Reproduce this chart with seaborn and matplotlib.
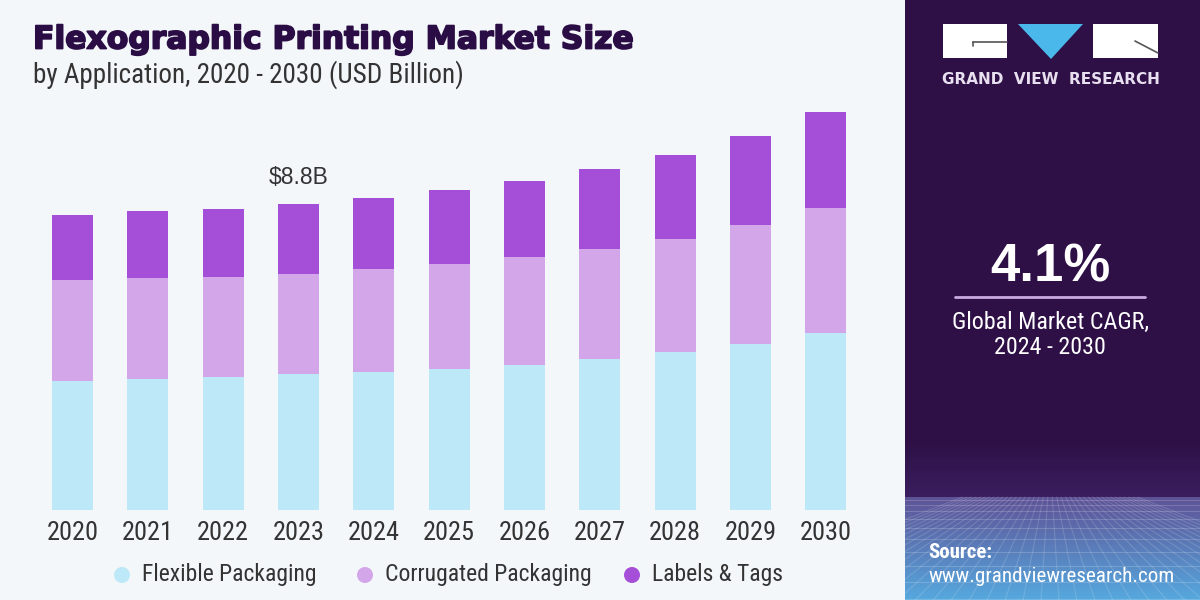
import numpy as np
import pandas as pd
import matplotlib
matplotlib.use("Agg")
import matplotlib.pyplot as plt
from matplotlib import font_manager as fm
from matplotlib.font_manager import FontProperties
from matplotlib.patches import Rectangle, Polygon, Ellipse
import matplotlib.patheffects as pe
import seaborn as sns

# ---------------- data ----------------
years = ["2020", "2021", "2022", "2023", "2024", "2025", "2026", "2027", "2028", "2029", "2030"]
flexible_packaging = [3.71, 3.77, 3.82, 3.90, 3.98, 4.06, 4.18, 4.33, 4.53, 4.77, 5.08]
corrugated_packaging = [2.90, 2.89, 2.88, 2.90, 2.95, 3.02, 3.10, 3.17, 3.27, 3.42, 3.62]
labels_tags = [1.87, 1.93, 1.96, 1.99, 2.05, 2.13, 2.19, 2.30, 2.41, 2.56, 2.75]
series_names = ["Flexible Packaging", "Corrugated Packaging", "Labels & Tags"]
colors = ["#BDE8F8", "#D3A6EA", "#A54ED7"]
highlight_year = "2023"
highlight_label = "$8.8B"
cagr_text = "4.1%"

# ---------------- fonts ----------------
sns.set_theme(style="white")
names = {f.name for f in fm.fontManager.ttflist}
SANS = "Liberation Sans" if "Liberation Sans" in names else "DejaVu Sans"
plt.rcParams["font.family"] = [SANS, "DejaVu Sans"]


def find_condensed(bold=False):
    prefs = ["Liberation Sans Narrow", "Roboto Condensed", "Open Sans Condensed",
             "Noto Sans Condensed", "DejaVu Sans Condensed", "DejaVu Sans"]
    best = None
    best_score = None
    for f in fm.fontManager.ttflist:
        nm = f.name
        fname_l = f.fname.lower()
        is_cond = ("narrow" in nm.lower() or "condensed" in nm.lower()
                   or f.stretch in ("condensed", "semi-condensed")
                   or "condensed" in fname_l or "narrow" in fname_l)
        if not is_cond or f.style != "normal":
            continue
        if "extracondensed" in fname_l.replace("-", "").replace("_", ""):
            continue
        w = f.weight if isinstance(f.weight, int) else (700 if "bold" in str(f.weight) else 400)
        target = 700 if bold else 400
        rank = next((i for i, p in enumerate(prefs) if nm.startswith(p)), len(prefs))
        score = (rank, abs(w - target))
        if best_score is None or score < best_score:
            best_score = score
            best = f.fname
    return best


cond_path = find_condensed(False)
cond_bold_path = find_condensed(True)


def cprop(size, bold=False):
    p = cond_bold_path if bold else cond_path
    if p:
        return FontProperties(fname=p, size=size)
    return FontProperties(family="DejaVu Sans", stretch="condensed", size=size,
                          weight="bold" if bold else "normal")


BG = "#F3F7FA"
TITLE_C = "#2B0D45"
TXT = "#333333"

fig = plt.figure(figsize=(12, 6), dpi=100, facecolor=BG)

# ---------------- bar chart ----------------
W, H = 1200.0, 600.0
px_per_unit = 34.77
ymax = 12.0
base_y = 510.0
ax_left = 34.9
ax_right = 863.5
ax = fig.add_axes([ax_left / W, (H - base_y) / H, (ax_right - ax_left) / W,
                   ymax * px_per_unit / H])
ax.set_facecolor(BG)

df = pd.DataFrame({"year": years,
                   "flex": flexible_packaging,
                   "corr": corrugated_packaging,
                   "lab": labels_tags})
df["c1"] = df["flex"]
df["c2"] = df["flex"] + df["corr"]
df["c3"] = df["c2"] + df["lab"]

for col, c in [("c3", colors[2]), ("c2", colors[1]), ("c1", colors[0])]:
    sns.barplot(data=df, x="year", y=col, color=c, width=0.545, ax=ax,
                saturation=1, edgecolor="none", linewidth=0)

ax.set_xlim(-0.5, len(years) - 0.5)
ax.set_ylim(0, ymax)
ax.set_xlabel("")
ax.set_ylabel("")
ax.set_yticks([])
for s in ax.spines.values():
    s.set_visible(False)
ax.tick_params(axis="x", length=0, pad=8)
for t in ax.get_xticklabels():
    t.set_fontproperties(cprop(19))
    t.set_color(TXT)

# highlight annotation
hi = years.index(highlight_year)
ax.text(hi, df["c3"][hi] + 0.45, highlight_label, ha="center", va="bottom",
        fontsize=16.5, color=TXT, family=SANS)

# ---------------- titles ----------------
fig.text(33 / W, 1 - 40 / H, "Flexographic Printing Market Size", ha="left", va="center",
         fontsize=22.6, fontweight="bold", color=TITLE_C, family="DejaVu Sans",
         path_effects=[pe.withStroke(linewidth=1.3, foreground=TITLE_C)])
fig.text(33 / W, 1 - 75 / H, "by Application, 2020 - 2030 (USD Billion)", ha="left",
         va="center", color=TXT, fontproperties=cprop(19.5))

# ---------------- legend ----------------
leg_x = [122, 365, 632]
for x, name, c in zip(leg_x, series_names, colors):
    fig.patches.append(Ellipse((x / W, 1 - 575 / H), 16 / W, 16 / H,
                               transform=fig.transFigure,
                               facecolor=c, edgecolor="none"))
    fig.text((x + 20) / W, 1 - 575 / H, name, ha="left", va="center",
             color=TXT, fontproperties=cprop(17))

# ---------------- right panel ----------------
pax = fig.add_axes([905 / W, 0, 295 / W, 1])
pax.set_xlim(905, 1200)
pax.set_ylim(600, 0)
pax.axis("off")

top_c = np.array(matplotlib.colors.to_rgb("#2E1046"))
hz_c = np.array(matplotlib.colors.to_rgb("#3A1E5E"))
mid_c = np.array(matplotlib.colors.to_rgb("#5E5296"))
bot_c = np.array(matplotlib.colors.to_rgb("#56A9DF"))
rows = 600
grad = np.zeros((rows, 1, 3))
for r in range(rows):
    if r < 440:
        grad[r, 0] = top_c
    elif r < 497:
        t = (r - 440) / 57
        grad[r, 0] = top_c * (1 - t) + hz_c * t
    else:
        t = (r - 497) / 103
        grad[r, 0] = mid_c * (1 - t) + bot_c * t
pax.imshow(grad, extent=[905, 1200, 600, 0], aspect="auto", zorder=0)

# decorative perspective grid
hz = 497
ys = hz + 3
k = 0
while ys < 600:
    pax.plot([905, 1200], [ys, ys], color="white", alpha=0.18, lw=0.8, zorder=1)
    k += 1
    ys += 3 + k * 1.6
vx = 1050
for xb in np.linspace(700, 1400, 40):
    pax.plot([vx + (xb - vx) * 0.25, xb], [hz, 600], color="white", alpha=0.15, lw=0.8, zorder=1)

# logo
pax.add_patch(Rectangle((943, 24), 64, 34, facecolor="white", edgecolor="none", zorder=2))
pax.plot([973, 1007], [42, 42], color="#555555", lw=1.2, zorder=3)
pax.plot([973, 973], [42, 46], color="#555555", lw=1.2, zorder=3)
pax.add_patch(Polygon([[1018, 24], [1083, 24], [1051, 59]], closed=True,
                      facecolor="#4BB8EC", edgecolor="none", zorder=2))
pax.add_patch(Rectangle((1093, 24), 65, 34, facecolor="white", edgecolor="none", zorder=2))
pax.plot([1135, 1158], [41, 53], color="#555555", lw=1.2, zorder=3)
pax.text(1050.5, 79, "GRAND  VIEW  RESEARCH", ha="center", va="center",
         fontsize=11, fontweight="bold", color="#E8E0F0", family="DejaVu Sans", zorder=3)

pax.text(1050, 268, cagr_text, ha="center", va="center", fontsize=38,
         fontweight="bold", color="white", family=SANS, zorder=3)
pax.plot([955, 1145], [297, 297], color="#C9A9E0", lw=2, zorder=3)
pax.text(1050, 322, "Global Market CAGR,", ha="center", va="center",
         color="white", fontproperties=cprop(17.3), zorder=3)
pax.text(1050, 347, "2024 - 2030", ha="center", va="center",
         color="white", fontproperties=cprop(17.3), zorder=3)

pax.text(928, 553, "Source:", ha="left", va="center",
         color="white", fontproperties=cprop(15, bold=True), zorder=3)
pax.text(928, 577, "www.grandviewresearch.com", ha="left", va="center",
         color="white", fontproperties=cprop(15.2), zorder=3)

fig.savefig("out.png", dpi=100, facecolor=BG)
